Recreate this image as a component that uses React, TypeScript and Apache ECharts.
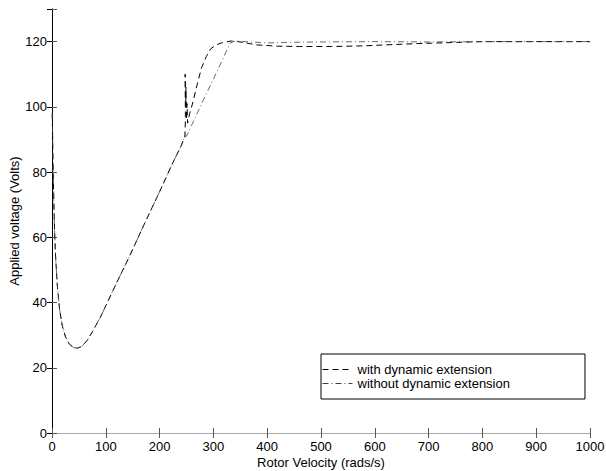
import React, { useEffect, useRef } from "react";
import * as echarts from "echarts";

const xTicks = [0, 100, 200, 300, 400, 500, 600, 700, 800, 900, 1000];
const yTicks = [0, 20, 40, 60, 80, 100, 120];

const seriesNames = ["with dynamic extension", "without dynamic extension"];

// shared descent and linear rise (both controllers identical here)
const commonVelocity = [0.5, 1, 1.5, 2.5, 3.5, 5, 7, 10, 14, 19, 25, 32, 40, 47, 55, 65, 75, 90, 100, 120, 145, 170, 200, 225, 240, 247];
const commonVoltage = [98, 93, 86, 78, 70, 61, 53, 45, 38, 33, 29.5, 27.3, 26.2, 26, 26.5, 28.3, 31, 35.5, 39, 46, 54.5, 63.5, 74, 83, 88, 91];

const withVelocity = [248, 247.5, 248.5, 249, 250, 251, 252, 256, 262, 270, 278, 287, 295, 305, 315, 325, 333, 345, 360, 380, 420, 460, 520, 580, 620, 680, 740, 800, 850, 1000];
const withVoltage = [96, 110, 100, 106, 96, 101, 95, 98, 101.5, 107, 112, 115.5, 117.8, 119, 119.6, 119.9, 120.2, 120, 119.6, 119, 118.6, 118.5, 118.5, 118.7, 119, 119.4, 119.7, 120, 120, 120];

const withoutVelocity = [250, 260, 281, 300, 315, 331, 340, 360, 400, 450, 500, 600, 700, 800, 1000];
const withoutVoltage = [91, 94.5, 102, 108.5, 113.8, 119.5, 120.2, 120, 119.6, 119.8, 119.9, 120, 119.9, 120, 120];

const FONT = "'Liberation Sans', Arial, Helvetica, sans-serif";

function pairs(xs: number[], ys: number[]) {
  return xs.map((x, i) => [x, ys[i]]);
}

export default function App() {
  const ref = useRef<HTMLDivElement>(null);
  useEffect(() => {
    if (!ref.current) return;
    const chart = echarts.init(ref.current, undefined, { renderer: "svg" });
    const withData = pairs(commonVelocity.concat(withVelocity), commonVoltage.concat(withVoltage));
    const withoutData = pairs(commonVelocity.concat(withoutVelocity), commonVoltage.concat(withoutVoltage));
    const tickFmtX = (v: number) => (xTicks.includes(v) ? String(v) : "");
    const tickFmtY = (v: number) => (yTicks.includes(v) ? String(v) : "");
    chart.setOption({
      animation: false,
      backgroundColor: "#fff",
      textStyle: { fontFamily: FONT },
      grid: { left: 52, right: 16, top: 9, bottom: 38, containLabel: false, outerBoundsMode: "none" },
      legend: {
        orient: "vertical",
        left: 321,
        top: 354,
        data: seriesNames,
        itemWidth: 30,
        itemHeight: 12,
        itemGap: 1,
        padding: [9, 75, 9, 1],
        borderColor: "#000",
        borderWidth: 1,
        itemStyle: { opacity: 0 },
        lineStyle: { width: 1 },
        textStyle: { fontFamily: FONT, fontSize: 13, color: "#000" },
      },
      xAxis: [
        {
          type: "value",
          min: 0,
          max: 1000,
          interval: 100,
          position: "bottom",
          name: "Rotor Velocity (rads/s)",
          nameLocation: "middle",
          nameGap: 23,
          nameMoveOverlap: false,
          nameTextStyle: { fontFamily: FONT, fontSize: 13, color: "#000" },
          axisLine: { lineStyle: { color: "#555", width: 1 } },
          axisTick: { inside: true, length: 5, lineStyle: { color: "#555" } },
          axisLabel: { fontFamily: FONT, fontSize: 13, color: "#000", margin: 7, formatter: tickFmtX },
          splitLine: { show: false },
        },
        {
          type: "value",
          min: 0,
          max: 1000,
          interval: 100,
          position: "top",
          axisLine: { lineStyle: { color: "#aaa", width: 1 } },
          axisTick: { inside: true, length: 5, lineStyle: { color: "#555" } },
          axisLabel: { show: false },
          splitLine: { show: false },
        },
      ],
      yAxis: [
        {
          type: "value",
          min: 0,
          max: 130,
          interval: 20,
          position: "left",
          name: "Applied voltage (Volts)",
          nameLocation: "middle",
          nameGap: 31,
          nameMoveOverlap: false,
          nameTextStyle: { fontFamily: FONT, fontSize: 13, color: "#000" },
          axisLine: { lineStyle: { color: "#666", width: 1 } },
          axisTick: { inside: true, length: 5, lineStyle: { color: "#555" } },
          axisLabel: { fontFamily: FONT, fontSize: 13, color: "#000", margin: 5, formatter: tickFmtY },
          splitLine: { show: false },
        },
        {
          type: "value",
          min: 0,
          max: 130,
          interval: 20,
          position: "right",
          axisLine: { lineStyle: { color: "#000", width: 1 } },
          axisTick: { inside: true, length: 5, lineStyle: { color: "#000" } },
          axisLabel: { show: false },
          splitLine: { show: false },
        },
      ],
      series: [
        {
          name: seriesNames[0],
          type: "line",
          data: withData,
          showSymbol: false,
          symbol: "none",
          xAxisIndex: 0,
          yAxisIndex: 0,
          color: "#000",
          lineStyle: { color: "#000", width: 1, type: [6, 4] },
        },
        {
          name: seriesNames[1],
          type: "line",
          data: withoutData,
          showSymbol: false,
          symbol: "none",
          xAxisIndex: 0,
          yAxisIndex: 0,
          color: "#444",
          lineStyle: { color: "#444", width: 0.8, type: [6, 3, 1, 3] },
        },
      ],
    });
    return () => chart.dispose();
  }, []);
  return (
    <div style={{ position: "absolute", left: 0, top: 0, width: 606, height: 471 }}>
      <div ref={ref} style={{ width: 606, height: 471 }} />
    </div>
  );
}
